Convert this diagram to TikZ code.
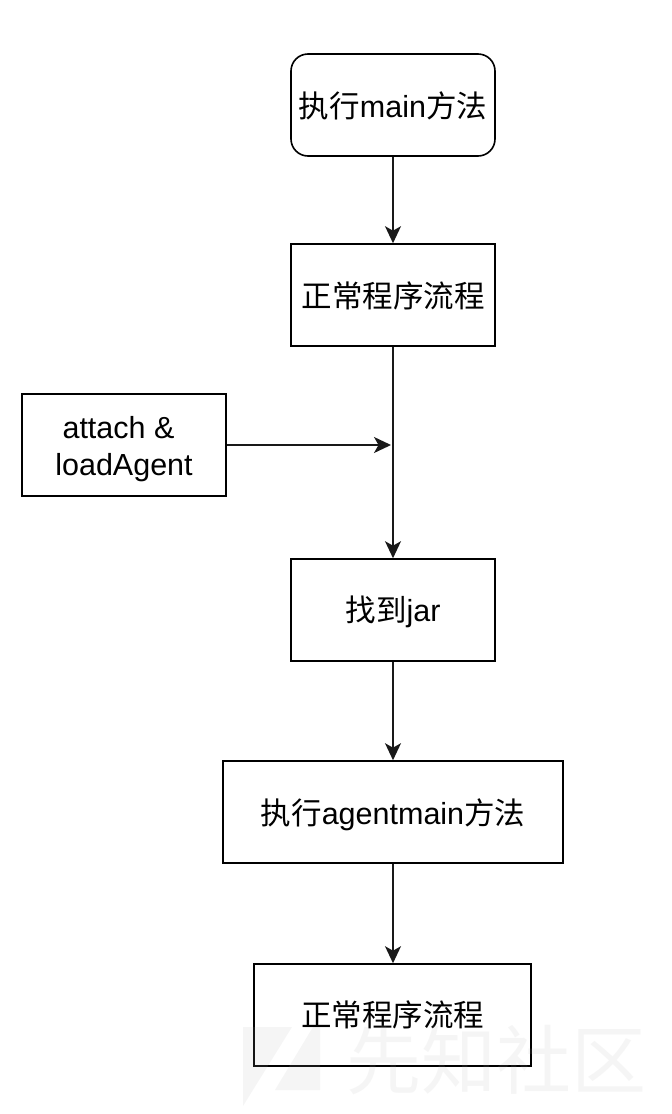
\documentclass[tikz,border=0pt]{standalone}
\usepackage{fontspec}
\setmainfont{Liberation Sans}
\newfontfamily\cjk{Noto Sans CJK SC}
\usetikzlibrary{arrows.meta}
\newcommand\dn[2]{\raisebox{-#1pt}[\height][\depth]{#2}}
\tikzset{
  x=1pt,y=-1pt,
  flowbox/.style={draw=black,line width=1.6pt,fill=white,minimum height=102pt,inner sep=0pt,
    font=\fontsize{30.5}{37}\selectfont,align=center},
  flowarrow/.style={draw=black!90,line width=1.6pt,-{Stealth[length=17pt,width=16pt,inset=4.5pt]}},
  mark shape/.style={fill=black!30,opacity=.12},
  mark text/.style={text=black!30,opacity=.12,font=\cjk\fontsize{75}{75}\selectfont,inner sep=0pt}
}
\begin{document}
\begin{tikzpicture}
\useasboundingbox (0,0) rectangle (672,1114);
\fill[white] (0,0) rectangle (672,1114);
\node[flowbox,minimum width=204pt,rounded corners=17pt] (main) at (393,105) {\dn{1}{{\cjk 执行}main{\cjk 方法}}};
\node[flowbox,minimum width=204pt] (normal) at (393,295) {\dn{1}{\cjk 正常程序流程}};
\node[flowbox,minimum width=204pt] (attach) at (124,445) {\dn{5}{\begin{tabular}{@{}c@{}}attach \&\kern11pt\\loadAgent\end{tabular}}};
\node[flowbox,minimum width=204pt] (jar) at (393,610) {\dn{2}{{\cjk 找到}jar}};
\node[flowbox,minimum width=340pt] (agent) at (393,812) {\dn{3}{{\cjk 执行}agentmain{\cjk 方法}}};
\node[flowbox,minimum width=277pt] (last) at (392.5,1015) {\cjk 正常程序流程};
\coordinate (hit) at (391,445);
\draw[flowarrow] (main) -- (normal);
\draw[flowarrow] (normal) -- (jar);
\draw[flowarrow] (attach) -- (hit);
\draw[flowarrow] (jar) -- (agent);
\draw[flowarrow] (agent.south) -- (agent.south |- last.north);
\fill[mark shape] (243,1027) -- (292,1027) -- (243,1106) -- cycle;
\fill[mark shape] (313,1027) -- (320,1027) -- (320,1090) -- (275,1090) -- cycle;
\node[mark text] (wm) at (496,1060) {先知社区};
\end{tikzpicture}
\end{document}
